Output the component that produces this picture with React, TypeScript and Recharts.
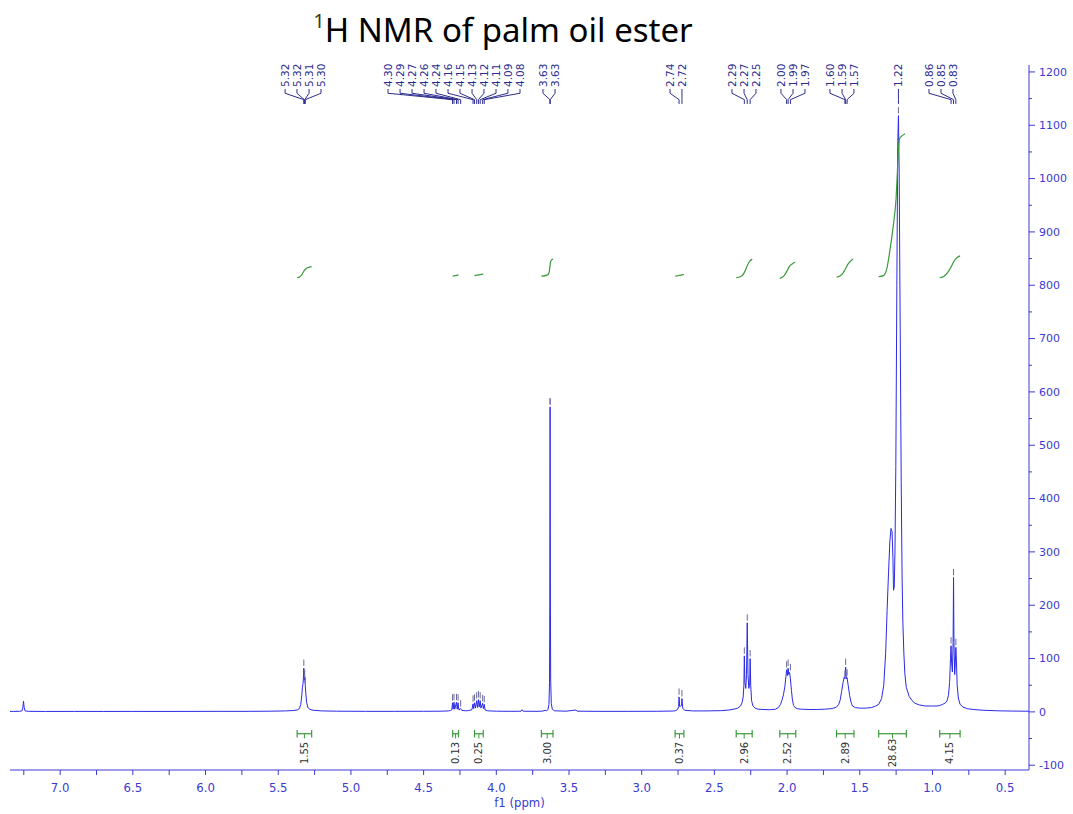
import React from 'react';
import { LineChart, Line, XAxis, YAxis, ReferenceLine, ReferenceDot } from 'recharts';

// ---------- spectrum (ppm, intensity) ----------
const solventRegion: [number, number][] = [
  [7.345, 0.8], [7.32, 0.9], [7.28, 1.0], [7.262, 2], [7.256, 9], [7.252, 20], [7.248, 9], [7.242, 2],
  [7.22, 1.0], [7.1, 0.8], [6.9, 0.9], [6.7, 0.8], [6.5, 0.9], [6.3, 0.8], [6.1, 0.9], [5.9, 1.0],
  [5.7, 1.0], [5.55, 1.3], [5.45, 1.8],
];
const olefinicRegion: [number, number][] = [
  [5.4, 2.5], [5.37, 3.5], [5.355, 6], [5.345, 14], [5.338, 30], [5.334, 46], [5.33, 52], [5.327, 62],
  [5.324, 82], [5.321, 60], [5.318, 63], [5.314, 50], [5.31, 34], [5.305, 18], [5.297, 9], [5.285, 5],
  [5.26, 3], [5.2, 1.8], [5.1, 1.3], [4.9, 1.0], [4.7, 1.0], [4.5, 1.1], [4.38, 1.3], [4.33, 1.8],
];
const glycerolRegion: [number, number][] = [
  [4.315, 2.5], [4.306, 4], [4.301, 17], [4.297, 5], [4.291, 18], [4.286, 5], [4.274, 18], [4.269, 5],
  [4.263, 17], [4.258, 4], [4.245, 6], [4.238, 3], [4.21, 2], [4.19, 2.5], [4.168, 4], [4.16, 15],
  [4.156, 6], [4.15, 17], [4.144, 7], [4.135, 21], [4.13, 8], [4.123, 23], [4.118, 9], [4.111, 21],
  [4.106, 7], [4.094, 16], [4.089, 6], [4.083, 14], [4.077, 3.5], [4.06, 2], [4.0, 1.3], [3.9, 1.0],
  [3.83, 1.2], [3.822, 4], [3.815, 1.2], [3.72, 1.0], [3.68, 1.5], [3.665, 3], [3.655, 2],
];
const methylEsterRegion: [number, number][] = [
  [3.645, 4], [3.638, 14], [3.634, 55], [3.632, 200], [3.63, 572], [3.628, 210], [3.626, 60],
  [3.622, 16], [3.615, 5], [3.6, 2], [3.52, 1.3], [3.452, 3.5], [3.445, 1.3], [3.3, 1.0], [3.1, 1.0],
  [2.9, 1.1], [2.78, 1.6],
];
const bisAllylicRegion: [number, number][] = [
  [2.765, 2.5], [2.752, 5], [2.746, 10], [2.743, 28], [2.739, 10], [2.731, 11], [2.726, 12], [2.723, 25],
  [2.718, 7], [2.705, 3], [2.65, 1.8], [2.55, 1.8], [2.45, 2.3], [2.4, 3.5], [2.36, 5.5],
];
const alphaCH2Region: [number, number][] = [
  [2.34, 7], [2.32, 11], [2.31, 17], [2.302, 28], [2.297, 50], [2.294, 105], [2.29, 55], [2.284, 44],
  [2.279, 70], [2.274, 167], [2.269, 70], [2.263, 44], [2.257, 55], [2.254, 100], [2.25, 50], [2.244, 21],
  [2.235, 11], [2.22, 7], [2.2, 5], [2.12, 4],
];
const allylicRegion: [number, number][] = [
  [2.08, 5], [2.06, 8], [2.045, 14], [2.035, 22], [2.025, 32], [2.015, 48], [2.008, 66], [2.003, 79],
  [1.998, 68], [1.993, 82], [1.988, 70], [1.983, 74], [1.977, 62], [1.97, 40], [1.963, 22], [1.955, 12],
  [1.945, 8], [1.93, 6], [1.9, 5], [1.85, 4.5], [1.8, 4.5], [1.74, 5], [1.7, 6],
];
const betaCH2Region: [number, number][] = [
  [1.68, 7], [1.66, 9], [1.645, 14], [1.635, 22], [1.625, 38], [1.615, 55], [1.607, 65], [1.602, 62],
  [1.597, 84], [1.592, 62], [1.587, 64], [1.58, 50], [1.57, 31], [1.56, 18], [1.55, 11], [1.53, 8],
  [1.5, 7], [1.46, 7], [1.42, 8], [1.39, 11],
];
const methyleneRegion: [number, number][] = [
  [1.37, 14], [1.35, 25], [1.335, 50], [1.322, 110], [1.312, 190], [1.302, 262], [1.293, 320],
  [1.285, 344], [1.278, 338], [1.272, 290], [1.268, 228], [1.263, 234], [1.258, 300], [1.252, 460],
  [1.245, 800], [1.239, 1060], [1.234, 1118], [1.229, 1010], [1.222, 720], [1.215, 430], [1.209, 255],
  [1.204, 172], [1.197, 112], [1.19, 72], [1.18, 46], [1.16, 29], [1.14, 21], [1.12, 16], [1.09, 13],
  [1.05, 11], [1.0, 11], [0.97, 11], [0.95, 12],
];
const methylRegion: [number, number][] = [
  [0.93, 14], [0.91, 17], [0.9, 21], [0.89, 31], [0.882, 55], [0.876, 100], [0.872, 124], [0.868, 90],
  [0.863, 75], [0.858, 130], [0.855, 252], [0.852, 130], [0.847, 70], [0.843, 90], [0.839, 121],
  [0.835, 95], [0.83, 50], [0.822, 26], [0.81, 14], [0.79, 9], [0.76, 6], [0.72, 4.5], [0.65, 3],
  [0.55, 2], [0.45, 1.5], [0.336, 1.2],
];

// ---------- integral curves (ppm, value on the intensity scale) ----------
const integral532: [number, number][] = [[5.37, 814], [5.35, 816], [5.335, 821], [5.32, 828], [5.305, 832], [5.285, 834], [5.27, 835]];
const integral428: [number, number][] = [[4.3, 817], [4.28, 818], [4.26, 819.5]];
const integral412: [number, number][] = [[4.15, 818], [4.12, 819.5], [4.09, 821]];
const integral363: [number, number][] = [[3.69, 817], [3.65, 819], [3.637, 824], [3.632, 833], [3.628, 842], [3.622, 847], [3.61, 849]];
const integral273: [number, number][] = [[2.77, 817], [2.74, 818.5], [2.71, 820]];
const integral227: [number, number][] = [[2.35, 814], [2.31, 818], [2.29, 826], [2.275, 836], [2.26, 844], [2.24, 849]];
const integral199: [number, number][] = [[2.05, 813], [2.02, 818], [2.0, 827], [1.985, 835], [1.965, 840], [1.945, 843]];
const integral159: [number, number][] = [[1.66, 815], [1.62, 821], [1.6, 830], [1.58, 840], [1.56, 846], [1.545, 849]];
const integral125: [number, number][] = [
  [1.37, 816], [1.337, 818], [1.314, 831], [1.293, 865], [1.268, 915], [1.25, 964], [1.24, 1020],
  [1.233, 1058], [1.226, 1075], [1.21, 1080], [1.188, 1084],
];
const integral085: [number, number][] = [[0.95, 814], [0.92, 817], [0.89, 826], [0.865, 838], [0.85, 846], [0.83, 852], [0.81, 855]];

// ---------- integration ranges ----------
const integralValues = ['1.55', '0.13', '0.25', '3.00', '0.37', '2.96', '2.52', '2.89', '28.63', '4.15'];
const integralFrom = [5.37, 4.3, 4.15, 3.69, 2.77, 2.35, 2.05, 1.66, 1.37, 0.95];
const integralTo = [5.27, 4.26, 4.09, 3.61, 2.71, 2.24, 1.94, 1.54, 1.18, 0.81];

// ---------- peak picking labels ----------
const peakLabelText = [
  '5.32', '5.32', '5.31', '5.30',
  '4.30', '4.29', '4.27', '4.26', '4.24', '4.16', '4.15', '4.13', '4.12', '4.11', '4.09', '4.08',
  '3.63', '3.63', '2.74', '2.72', '2.29', '2.27', '2.25', '2.00', '1.99', '1.97',
  '1.60', '1.59', '1.57', '1.22', '0.86', '0.85', '0.83',
];
// where each label text stands (ppm units)
const peakLabelAt = [
  5.453, 5.371, 5.288, 5.206,
  4.745, 4.662, 4.58, 4.497, 4.415, 4.332, 4.25, 4.167, 4.085, 4.002, 3.92, 3.837,
  3.679, 3.596, 2.805, 2.723, 2.379, 2.296, 2.214, 2.042, 1.959, 1.877,
  1.705, 1.622, 1.54, 1.234, 1.024, 0.941, 0.859,
];
// the picked peak each label points at (ppm) and its height
const peakAt = [
  5.324, 5.321, 5.318, 5.314,
  4.301, 4.291, 4.274, 4.263, 4.245, 4.16, 4.15, 4.135, 4.123, 4.111, 4.094, 4.083,
  3.631, 3.629, 2.743, 2.723, 2.294, 2.274, 2.254, 2.003, 1.993, 1.977,
  1.602, 1.597, 1.587, 1.234, 0.872, 0.855, 0.839,
];
const peakTop = [
  82, 60, 63, 50,
  17, 18, 18, 17, 6, 15, 17, 21, 23, 21, 16, 14,
  572, 572, 28, 25, 105, 167, 100, 79, 82, 74,
  62, 84, 64, 1118, 124, 252, 121,
];

// ---------- axes ----------
const xTicks = [7.25, 7.0, 6.75, 6.5, 6.25, 6.0, 5.75, 5.5, 5.25, 5.0, 4.75, 4.5, 4.25, 4.0, 3.75, 3.5, 3.25, 3.0, 2.75, 2.5, 2.25, 2.0, 1.75, 1.5, 1.25, 1.0, 0.75, 0.5];
const yTicks = [-100, -50, 0, 50, 100, 150, 200, 250, 300, 350, 400, 450, 500, 550, 600, 650, 700, 750, 800, 850, 900, 950, 1000, 1050, 1100, 1150, 1200];

const spectrum = [
  ...solventRegion, ...olefinicRegion, ...glycerolRegion, ...methylEsterRegion, ...bisAllylicRegion,
  ...alphaCH2Region, ...allylicRegion, ...betaCH2Region, ...methyleneRegion, ...methylRegion,
].map(([x, y]) => ({ x, y }));

const integralCurves = [
  integral532, integral428, integral412, integral363, integral273,
  integral227, integral199, integral159, integral125, integral085,
].map((c) => c.map(([x, y]) => ({ x, y })));

const AXIS = '#3a3ad2';
const SPEC = '#2a2ae8';
const NAVY = '#2c2c8e';
const MARK = '#6a6a9a';
const GREEN = '#3a9a3a';
const FONT = "'DejaVu Sans', Verdana, sans-serif";
const NARROW = "'Liberation Sans Narrow', 'DejaVu Sans Condensed', sans-serif";

// vertical levels (intensity units) for the annotation furniture
const LBL_BASE = 1168;
const LBL_TICK = 1160;
const LBL_DIAG = 1148;
const LBL_END = 1140;
const BAR_Y = -41;
const BAR_CAP = 7;
const BAR_STEM = -50;
const INT_TXT_Y = -77;

const TICK_SIZE = 6;
const TICK_MARGIN = 4;

const YTick = (props: any) => {
  const { x, y, payload } = props;
  const ax = x - TICK_SIZE - TICK_MARGIN;
  const major = payload.value % 100 === 0;
  return (
    <g>
      <line x1={ax} x2={ax + (major ? 6 : 3)} y1={y} y2={y} stroke={AXIS} strokeWidth={1} />
      {major && (
        <text x={x} y={y} dy="0.35em" fontSize={11} fill={AXIS} fontFamily={FONT} textAnchor="start">
          {payload.value}
        </text>
      )}
    </g>
  );
};

const fmtX = (v: number) => (Math.abs(v * 2 - Math.round(v * 2)) < 1e-6 ? v.toFixed(1) : '');

export default function App() {
  return (
    <div style={{ position: 'absolute', left: 0, top: 0, width: 1073, height: 814, background: '#fff' }}>
      <svg width={1073} height={60} style={{ position: 'absolute', left: 0, top: 0 }}>
        <text x={503} y={42} textAnchor="middle" fontFamily="'Noto Sans', 'Open Sans', sans-serif" fontSize={33} fill="#000">
          <tspan fontSize={20} dy={-14} fill="#3a3a1a">1</tspan>
          <tspan dy={14}>H NMR of palm oil ester</tspan>
        </text>
      </svg>
      <div style={{ position: 'absolute', left: 0, top: 0 }}>
        <LineChart width={1073} height={814} margin={{ top: 65, right: 0, bottom: 0, left: 10 }}>
          <XAxis
            dataKey="x"
            type="number"
            domain={[0.336, 7.345]}
            reversed
            allowDataOverflow
            ticks={xTicks}
            interval={0}
            tickFormatter={fmtX}
            height={44}
            tickSize={5}
            tickMargin={8}
            stroke={AXIS}
            tick={{ fill: AXIS, fontSize: 13, fontFamily: NARROW }}
            label={{ value: 'f1 (ppm)', position: 'insideBottom', offset: 7, fill: AXIS, fontSize: 13, fontFamily: NARROW }}
          />
          <YAxis
            orientation="right"
            type="number"
            domain={[-109, 1213]}
            allowDataOverflow
            ticks={yTicks}
            interval={0}
            width={44}
            tickSize={TICK_SIZE}
            tickMargin={TICK_MARGIN}
            tickLine={false}
            tick={<YTick />}
            stroke={AXIS}
          />
          <Line data={spectrum} dataKey="y" type="linear" stroke={SPEC} strokeWidth={1} dot={false} isAnimationActive={false} />
          {integralCurves.map((c, i) => (
            <Line key={'int' + i} data={c} dataKey="y" type="monotone" stroke={GREEN} strokeWidth={1.2} dot={false} isAnimationActive={false} />
          ))}
          {peakAt.map((px, i) => (
            <ReferenceLine
              key={'mk' + i}
              segment={[{ x: px, y: peakTop[i] + 4 }, { x: px, y: peakTop[i] + 16 }]}
              stroke={MARK}
              strokeWidth={1}
            />
          ))}
          {integralValues.map((v, i) => {
            const a = integralFrom[i];
            const b = integralTo[i];
            const m = (a + b) / 2;
            return (
              <React.Fragment key={'bar' + i}>
                <ReferenceLine segment={[{ x: a, y: BAR_Y }, { x: b, y: BAR_Y }]} stroke={GREEN} strokeWidth={1.2} />
                <ReferenceLine segment={[{ x: a, y: BAR_Y - BAR_CAP }, { x: a, y: BAR_Y + BAR_CAP }]} stroke={GREEN} strokeWidth={1.2} />
                <ReferenceLine segment={[{ x: b, y: BAR_Y - BAR_CAP }, { x: b, y: BAR_Y + BAR_CAP }]} stroke={GREEN} strokeWidth={1.2} />
                <ReferenceLine segment={[{ x: m, y: BAR_Y }, { x: m, y: BAR_STEM }]} stroke={GREEN} strokeWidth={1} />
                <ReferenceDot
                  x={m}
                  y={INT_TXT_Y}
                  r={1}
                  shape={(p: any) => (
                    <text
                      x={p.cx}
                      y={p.cy}
                      transform={`rotate(-90 ${p.cx} ${p.cy})`}
                      textAnchor="middle"
                      dominantBaseline="central"
                      fontSize={10}
                      fontFamily={FONT}
                      fill="#333"
                    >
                      {v}
                    </text>
                  )}
                />
              </React.Fragment>
            );
          })}
          {peakLabelText.map((t, i) => {
            const lx = peakLabelAt[i];
            const px = peakAt[i];
            return (
              <React.Fragment key={'pk' + i}>
                <ReferenceLine segment={[{ x: lx, y: LBL_BASE }, { x: lx, y: LBL_TICK }]} stroke={NAVY} strokeWidth={1} />
                <ReferenceLine segment={[{ x: lx, y: LBL_TICK }, { x: px, y: LBL_DIAG }]} stroke={NAVY} strokeWidth={1} />
                <ReferenceLine segment={[{ x: px, y: LBL_DIAG }, { x: px, y: LBL_END }]} stroke={NAVY} strokeWidth={1} />
                <ReferenceDot
                  x={lx}
                  y={LBL_BASE}
                  r={1}
                  shape={(p: any) => (
                    <text
                      x={p.cx}
                      y={p.cy - 2}
                      transform={`rotate(-90 ${p.cx} ${p.cy - 2})`}
                      textAnchor="start"
                      dominantBaseline="central"
                      fontSize={10.5}
                      fontFamily={FONT}
                      fill={NAVY}
                    >
                      {t}
                    </text>
                  )}
                />
              </React.Fragment>
            );
          })}
        </LineChart>
      </div>
    </div>
  );
}
